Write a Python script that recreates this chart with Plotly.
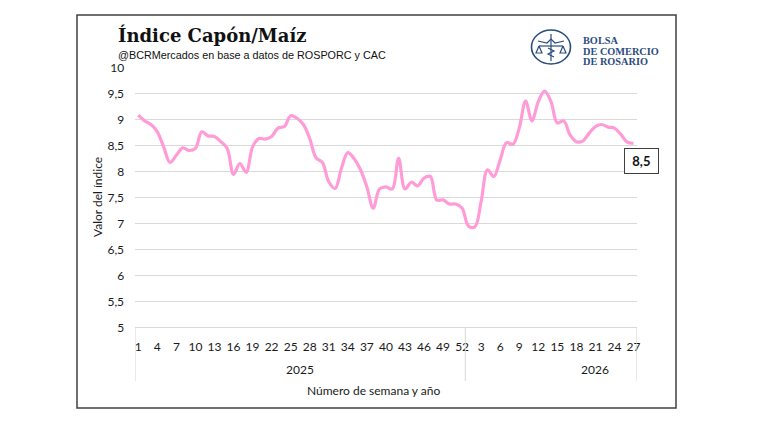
import plotly.graph_objects as go

# ---- data ----
weeks_2025 = list(range(1, 53))
weeks_2026 = list(range(1, 28))
week_labels = [str(w) for w in weeks_2025] + [str(w) for w in weeks_2026]
years = ["2025"] * len(weeks_2025) + ["2026"] * len(weeks_2026)

index_values = [
    9.08, 8.97, 8.90, 8.76, 8.47, 8.17, 8.31, 8.45, 8.40, 8.44,
    8.76, 8.68, 8.67, 8.57, 8.44, 7.94, 8.15, 7.98, 8.47, 8.63,
    8.62, 8.67, 8.83, 8.86, 9.07, 9.02, 8.90, 8.63, 8.26, 8.17,
    7.80, 7.67, 8.06, 8.36, 8.24, 8.03, 7.70, 7.29, 7.66, 7.70,
    7.66, 8.25, 7.66, 7.79, 7.72, 7.87, 7.90, 7.45, 7.45, 7.37,
    7.37, 7.29, 6.95, 6.93, 7.42, 8.03, 7.90, 8.22, 8.55, 8.52,
    8.83, 9.35, 8.97, 9.34, 9.54, 9.34, 8.93, 8.97, 8.70, 8.57,
    8.58, 8.73, 8.86, 8.90, 8.85, 8.83, 8.71, 8.56, 8.54,
]
y_ticks = [5, 5.5, 6, 6.5, 7, 7.5, 8, 8.5, 9, 9.5, 10]

W, H = 776, 423
def X(px):
    return px / W
def Y(py):
    return 1 - py / H

idx = list(range(len(index_values)))
tick_idx = idx[::3]
tick_txt = [week_labels[i] for i in tick_idx]

BLUE = "#2B4C7E"
GRID = "#D9D9D9"
TXT = "#1a1a1a"
AXFONT = "Lato, 'Open Sans', sans-serif"

fig = go.Figure()
fig.add_trace(go.Scatter(
    x=idx, y=index_values, mode="lines",
    line=dict(color="#FF9CD8", width=3.2, shape="spline", smoothing=1.0),
    hoverinfo="skip", showlegend=False,
))

shapes = []
# frame
shapes.append(dict(type="rect", xref="paper", yref="paper",
                   x0=X(77), x1=X(676), y0=Y(408), y1=Y(15),
                   line=dict(color="#404040", width=1.5)))
# category separators
n25 = len(weeks_2025)
for xv in [-0.5, n25 - 0.5, len(idx) - 0.5]:
    shapes.append(dict(type="line", xref="x", yref="paper",
                       x0=xv, x1=xv, y0=Y(381), y1=Y(327.3),
                       line=dict(color=GRID, width=1)))
# logo emblem
cx, cy = 551, 47
shapes.append(dict(type="circle", xref="paper", yref="paper",
                   x0=X(cx - 19.5), x1=X(cx + 19.5), y0=Y(cy + 17), y1=Y(cy - 17),
                   line=dict(color=BLUE, width=1.6)))
def P(pts):
    return "M " + " L ".join(f"{X(a):.5f},{Y(b):.5f}" for a, b in pts)
emblem = [
    [(cx, cy - 13), (cx, cy + 14)],                       # staff
    [(cx - 13, cy - 6), (cx - 4, cy - 4), (cx, cy - 8), (cx + 4, cy - 4), (cx + 13, cy - 6)],  # wings
    [(cx - 12, cy - 1), (cx + 12, cy - 1)],               # beam
    [(cx - 12, cy - 1), (cx - 15, cy + 6), (cx - 9, cy + 6), (cx - 12, cy - 1)],
    [(cx + 12, cy - 1), (cx + 9, cy + 6), (cx + 15, cy + 6), (cx + 12, cy - 1)],
    [(cx - 3, cy + 1), (cx + 3, cy + 4), (cx - 3, cy + 7), (cx + 3, cy + 10)],  # serpent
]
for pts in emblem:
    shapes.append(dict(type="path", xref="paper", yref="paper", path=P(pts),
                       line=dict(color=BLUE, width=1.2)))

ann = []
ann.append(dict(text="<b>Índice Capón/Maíz</b>", xref="paper", yref="paper",
                x=X(116), y=Y(35.5), xanchor="left", yanchor="middle", showarrow=False,
                font=dict(family="DejaVu Serif", size=18, color="#111")))
ann.append(dict(text="@BCRMercados en base a datos de ROSPORC y CAC", xref="paper", yref="paper",
                x=X(116), y=Y(54.5), xanchor="left", yanchor="middle", showarrow=False,
                font=dict(family="Liberation Sans", size=10.8, color="#111")))
# logo text: base size sets line spacing, spans set glyph size
logo_lines = ["BOLSA", "DE COMERCIO", "DE ROSARIO"]
logo_txt = "<br>".join(f"<span style='font-size:10.3px'><b>{t}</b></span>" for t in logo_lines)
ann.append(dict(text=logo_txt, xref="paper", yref="paper", x=X(580.5), y=Y(50.5),
                xanchor="left", yanchor="middle", align="left", showarrow=False,
                font=dict(family="Liberation Serif", size=8.1, color=BLUE)))
# year labels
ann.append(dict(text=years[0], xref="x", yref="paper", x=(n25 - 1) / 2, y=Y(369),
                xanchor="center", yanchor="middle", showarrow=False,
                font=dict(family=AXFONT, size=12, color=TXT)))
ann.append(dict(text=years[-1], xref="x", yref="paper", x=72, y=Y(369),
                xanchor="center", yanchor="middle", showarrow=False,
                font=dict(family=AXFONT, size=12, color=TXT)))
ann.append(dict(text="Número de semana y año", xref="paper", yref="paper", x=X(373), y=Y(390),
                xanchor="center", yanchor="middle", showarrow=False,
                font=dict(family=AXFONT, size=12, color=TXT)))
ann.append(dict(text="Valor del índice", xref="paper", yref="paper", x=X(97), y=Y(197),
                xanchor="center", yanchor="middle", showarrow=False, textangle=-90,
                font=dict(family=AXFONT, size=12, color=TXT)))
# data label on last point
last = index_values[-1]
ann.append(dict(text="&nbsp;<b>" + f"{last:.1f}".replace(".", ",") + "</b>&nbsp;", xref="x", yref="y",
                x=idx[-1], y=last, xshift=8, yshift=-18, showarrow=False,
                bgcolor="white", bordercolor="#404040", borderwidth=1, borderpad=4,
                font=dict(family=AXFONT, size=13, color="#111")))

fig.update_layout(
    template="none",
    width=W, height=H, autosize=False,
    margin=dict(l=0, r=0, t=0, b=0),
    paper_bgcolor="white", plot_bgcolor="white",
    separators=",.",
    showlegend=False,
    shapes=shapes, annotations=ann,
    xaxis=dict(domain=[X(135.1), X(636.7)], range=[-0.5, len(idx) - 0.5],
               tickmode="array", tickvals=tick_idx, ticktext=tick_txt,
               showgrid=False, zeroline=False, showline=True, linecolor=GRID, linewidth=1,
               ticks="", ticklabelstandoff=8, automargin=False,
               tickfont=dict(family=AXFONT, size=12, color=TXT)),
    yaxis=dict(domain=[Y(327.3), Y(67.3)], range=[5, 10],
               tickmode="array", tickvals=y_ticks,
               showgrid=True, gridcolor=GRID, gridwidth=1, zeroline=False, showline=False,
               ticks="", ticklabelstandoff=10, automargin=False,
               tickfont=dict(family=AXFONT, size=12, color=TXT)),
)

fig.write_html("out.html")
